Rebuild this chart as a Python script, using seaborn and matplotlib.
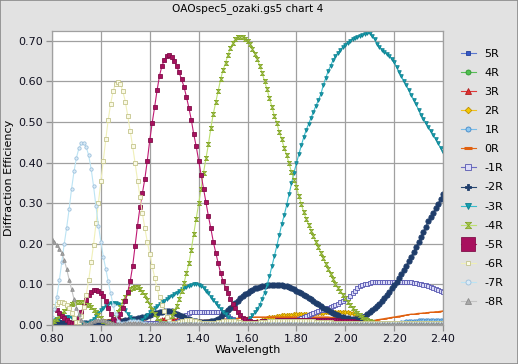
import matplotlib.pyplot as plt
import numpy as np
import pandas as pd
import seaborn as sns
from matplotlib.patches import Rectangle

# wavelength grid (0.01 steps, 0.80 .. 2.40)
wavelength = np.linspace(0.80, 2.40, 161)

p5 = [.010, .009, .008, .007, .006, .005, .004, .004, .003, .003,
      .003, .003, .002, .002, .002, .002, .002, .002, .002, .002,
      .002, .002, .002, .002, .002, .002, .002, .002, .002, .002,
      .002, .002, .002, .002, .002, .002, .002, .002, .002, .002,
      .002, .002, .002, .002, .002, .002, .002, .002, .002, .002,
      .002, .002, .002, .002, .002, .002, .002, .002, .002, .002,
      .002, .002, .002, .002, .002, .002, .002, .002, .002, .002,
      .002, .002, .002, .002, .002, .002, .002, .002, .002, .002,
      .002, .002, .002, .002, .002, .002, .002, .002, .002, .002,
      .002, .002, .002, .002, .002, .002, .002, .002, .002, .002,
      .002, .002, .002, .002, .002, .002, .002, .002, .002, .002,
      .002, .002, .002, .002, .002, .002, .002, .002, .002, .002,
      .002, .002, .002, .002, .002, .002, .002, .002, .002, .002,
      .002, .002, .002, .002, .002, .002, .002, .002, .002, .002,
      .002, .002, .002, .002, .002, .002, .002, .002, .002, .002,
      .002, .002, .002, .002, .002, .002, .002, .002, .002, .002,
      .002]
p4 = [.006, .005, .005, .004, .004, .003, .003, .003, .002, .002,
      .002, .002, .002, .002, .002, .002, .002, .002, .002, .002,
      .002, .002, .002, .002, .002, .002, .002, .002, .002, .002,
      .002, .002, .002, .002, .002, .002, .002, .002, .002, .002,
      .002, .002, .002, .002, .002, .002, .002, .002, .002, .002,
      .002, .002, .002, .002, .002, .002, .002, .002, .002, .002,
      .002, .002, .002, .002, .002, .002, .002, .002, .002, .002,
      .002, .002, .002, .002, .002, .002, .002, .002, .002, .002,
      .002, .002, .002, .002, .002, .002, .002, .002, .002, .002,
      .002, .002, .002, .002, .002, .002, .002, .002, .002, .002,
      .002, .002, .002, .002, .002, .002, .002, .002, .002, .002,
      .002, .002, .002, .002, .002, .002, .002, .002, .002, .002,
      .002, .002, .002, .002, .002, .002, .002, .002, .002, .002,
      .002, .002, .002, .002, .002, .002, .002, .002, .002, .002,
      .002, .002, .002, .002, .002, .002, .002, .002, .002, .002,
      .002, .002, .002, .002, .002, .002, .002, .002, .002, .002,
      .002]
p3 = [.008, .008, .007, .007, .006, .006, .005, .005, .004, .004,
      .004, .003, .003, .003, .003, .003, .003, .003, .003, .003,
      .003, .003, .003, .003, .003, .003, .003, .003, .003, .003,
      .003, .003, .003, .003, .003, .003, .003, .003, .003, .003,
      .004, .006, .008, .010, .012, .014, .015, .016, .016, .016,
      .015, .014, .012, .010, .008, .006, .004, .003, .003, .003,
      .002, .002, .002, .002, .002, .002, .002, .002, .002, .002,
      .002, .002, .002, .002, .002, .002, .002, .002, .002, .002,
      .002, .002, .002, .002, .002, .002, .002, .002, .002, .002,
      .002, .002, .002, .002, .002, .002, .002, .002, .002, .002,
      .002, .002, .002, .002, .002, .002, .002, .002, .002, .002,
      .002, .002, .002, .002, .002, .002, .002, .002, .002, .002,
      .002, .002, .002, .002, .002, .002, .002, .002, .002, .002,
      .002, .002, .002, .002, .002, .002, .002, .002, .002, .002,
      .002, .002, .002, .002, .002, .002, .002, .002, .002, .002,
      .002, .002, .002, .002, .002, .002, .002, .002, .002, .002,
      .002]
p2 = [.002, .002, .002, .002, .002, .002, .002, .002, .002, .002,
      .002, .002, .002, .002, .002, .002, .002, .002, .002, .002,
      .002, .002, .002, .002, .002, .002, .002, .002, .002, .002,
      .002, .002, .002, .002, .002, .002, .002, .002, .002, .002,
      .002, .002, .002, .002, .002, .002, .002, .002, .002, .002,
      .002, .002, .002, .002, .002, .002, .002, .002, .002, .002,
      .002, .002, .002, .002, .002, .002, .002, .002, .002, .002,
      .002, .002, .002, .002, .002, .002, .002, .002, .002, .002,
      .003, .004, .005, .007, .009, .011, .013, .015, .017, .019,
      .020, .021, .022, .023, .024, .024, .025, .025, .025, .026,
      .026, .026, .026, .027, .027, .027, .028, .028, .029, .029,
      .030, .030, .031, .031, .032, .032, .032, .032, .032, .032,
      .031, .031, .030, .029, .027, .024, .020, .015, .010, .006,
      .004, .003, .002, .002, .002, .002, .002, .002, .002, .002,
      .002, .002, .002, .002, .002, .002, .002, .002, .002, .002,
      .002, .002, .002, .002, .002, .002, .002, .002, .002, .002,
      .002]
p1 = [.004, .003, .003, .002, .002, .002, .002, .002, .002, .002,
      .002, .002, .002, .002, .002, .002, .002, .002, .002, .002,
      .002, .002, .002, .002, .002, .002, .002, .002, .002, .002,
      .002, .002, .002, .002, .002, .002, .002, .002, .002, .002,
      .002, .002, .002, .002, .002, .002, .002, .002, .002, .002,
      .002, .002, .002, .002, .002, .002, .002, .002, .002, .002,
      .002, .002, .002, .002, .002, .002, .002, .002, .002, .002,
      .002, .002, .002, .002, .002, .002, .002, .002, .002, .002,
      .002, .002, .002, .002, .002, .002, .002, .002, .002, .002,
      .002, .002, .002, .002, .002, .002, .002, .002, .002, .002,
      .002, .002, .002, .002, .002, .002, .002, .002, .002, .002,
      .002, .002, .002, .002, .002, .002, .002, .002, .002, .002,
      .002, .002, .002, .002, .002, .002, .002, .002, .002, .002,
      .002, .002, .002, .002, .002, .002, .002, .002, .002, .002,
      .004, .005, .006, .007, .008, .009, .010, .010, .011, .011,
      .012, .012, .012, .012, .012, .012, .012, .012, .012, .012,
      .012]
z0 = [.004, .004, .004, .004, .004, .004, .004, .004, .004, .004,
      .004, .004, .004, .004, .004, .005, .006, .007, .008, .009,
      .010, .011, .012, .013, .014, .015, .015, .015, .015, .015,
      .015, .015, .015, .015, .014, .013, .012, .011, .010, .009,
      .008, .008, .008, .008, .008, .008, .008, .008, .009, .009,
      .009, .009, .010, .010, .010, .010, .011, .011, .011, .011,
      .012, .012, .012, .012, .013, .013, .013, .014, .014, .014,
      .015, .015, .015, .016, .016, .016, .017, .017, .018, .018,
      .019, .019, .019, .020, .020, .020, .020, .020, .020, .020,
      .020, .020, .020, .020, .020, .020, .020, .020, .020, .020,
      .020, .020, .020, .020, .020, .020, .020, .020, .020, .020,
      .020, .020, .020, .020, .019, .019, .019, .018, .018, .017,
      .016, .015, .013, .012, .010, .009, .008, .008, .008, .009,
      .010, .011, .012, .013, .014, .015, .016, .017, .018, .019,
      .020, .021, .022, .023, .024, .025, .026, .027, .027, .028,
      .029, .029, .030, .030, .031, .032, .032, .033, .033, .034,
      .035]
m1 = [.003, .003, .003, .003, .003, .003, .003, .003, .003, .003,
      .003, .003, .003, .003, .003, .003, .003, .003, .003, .003,
      .003, .003, .003, .003, .003, .003, .003, .003, .003, .004,
      .004, .004, .004, .004, .004, .004, .004, .004, .004, .004,
      .004, .004, .004, .004, .004, .004, .004, .004, .004, .005,
      .006, .008, .011, .015, .020, .025, .029, .031, .032, .033,
      .033, .033, .033, .033, .033, .033, .033, .033, .032, .031,
      .029, .026, .022, .018, .014, .010, .007, .005, .004, .003,
      .003, .003, .003, .003, .003, .003, .003, .003, .003, .003,
      .003, .003, .003, .004, .004, .005, .006, .007, .008, .010,
      .012, .015, .018, .021, .023, .025, .028, .030, .032, .034,
      .036, .038, .040, .043, .045, .047, .050, .053, .057, .060,
      .063, .067, .071, .078, .085, .090, .095, .098, .101, .102,
      .104, .105, .105, .106, .106, .107, .107, .107, .107, .107,
      .107, .107, .107, .107, .106, .106, .105, .105, .104, .103,
      .102, .101, .099, .098, .096, .093, .091, .089, .086, .084,
      .081]
m2 = [.008, .008, .007, .007, .006, .006, .006, .005, .005, .005,
      .005, .005, .005, .005, .005, .005, .006, .006, .006, .006,
      .006, .006, .006, .007, .007, .007, .008, .008, .010, .011,
      .012, .013, .014, .015, .016, .017, .018, .020, .021, .023,
      .025, .027, .029, .030, .032, .033, .034, .035, .035, .034,
      .030, .028, .025, .022, .019, .016, .014, .012, .010, .009,
      .008, .007, .007, .007, .008, .009, .010, .013, .016, .021,
      .026, .031, .037, .043, .048, .054, .060, .066, .071, .076,
      .080, .084, .087, .090, .092, .094, .096, .097, .098, .099,
      .099, .099, .099, .098, .098, .097, .095, .093, .091, .088,
      .085, .082, .078, .075, .071, .067, .063, .059, .055, .051,
      .047, .043, .039, .036, .032, .029, .026, .024, .021, .019,
      .018, .017, .016, .016, .016, .016, .018, .020, .023, .027,
      .031, .036, .041, .047, .053, .060, .067, .074, .082, .090,
      .098, .107, .116, .126, .136, .146, .157, .168, .180, .192,
      .204, .216, .229, .242, .255, .265, .275, .287, .298, .310,
      .322]
m3 = [.010, .013, .016, .018, .020, .021, .021, .020, .018, .015,
      .012, .009, .006, .004, .003, .005, .009, .015, .022, .029,
      .036, .042, .047, .051, .054, .055, .055, .053, .049, .043,
      .036, .028, .020, .012, .007, .005, .008, .013, .019, .025,
      .031, .036, .041, .046, .051, .056, .060, .064, .068, .072,
      .076, .080, .084, .088, .091, .094, .097, .099, .100, .101,
      .099, .096, .091, .085, .078, .070, .062, .054, .046, .039,
      .032, .026, .020, .016, .012, .009, .007, .005, .005, .008,
      .013, .017, .024, .031, .040, .050, .065, .080, .098, .120,
      .145, .170, .195, .222, .248, .270, .295, .322, .350, .375,
      .398, .420, .442, .462, .480, .495, .510, .525, .540, .553,
      .568, .590, .608, .625, .638, .652, .662, .670, .677, .684,
      .690, .695, .700, .705, .707, .709, .712, .714, .717, .719,
      .718, .712, .703, .692, .685, .678, .672, .667, .662, .656,
      .647, .635, .623, .612, .600, .590, .578, .566, .555, .543,
      .530, .518, .508, .497, .487, .477, .468, .458, .447, .436,
      .425]
m4 = [.005, .010, .016, .022, .028, .035, .041, .046, .051, .054,
      .056, .057, .057, .056, .053, .049, .044, .038, .031, .024,
      .017, .011, .006, .003, .004, .010, .020, .032, .045, .058,
      .070, .080, .088, .092, .094, .093, .089, .082, .073, .062,
      .050, .038, .027, .017, .009, .004, .003, .005, .012, .022,
      .035, .048, .065, .083, .103, .127, .152, .185, .225, .262,
      .300, .335, .375, .410, .445, .485, .520, .548, .575, .605,
      .628, .645, .665, .682, .694, .703, .708, .710, .709, .705,
      .700, .691, .680, .668, .655, .638, .620, .600, .580, .558,
      .537, .515, .497, .475, .457, .437, .418, .398, .377, .358,
      .340, .318, .298, .278, .262, .247, .232, .218, .204, .191,
      .178, .164, .151, .138, .125, .113, .102, .092, .083, .074,
      .066, .057, .049, .042, .035, .029, .024, .019, .015, .012,
      .009, .007, .005, .004, .003, .002, .002, .002, .002, .002,
      .002, .003, .003, .003, .003, .004, .004, .004, .004, .004,
      .004, .004, .004, .004, .004, .004, .003, .003, .003, .003,
      .003]
m5 = [.048, .044, .037, .030, .023, .017, .012, .007, .004, .004,
      .008, .018, .032, .048, .062, .074, .082, .086, .087, .085,
      .080, .072, .058, .043, .028, .016, .010, .014, .026, .042,
      .060, .082, .108, .145, .195, .245, .290, .325, .360, .405,
      .455, .498, .537, .578, .614, .638, .653, .662, .665, .660,
      .650, .638, .622, .605, .587, .562, .535, .505, .470, .440,
      .405, .370, .336, .302, .268, .238, .205, .178, .152, .128,
      .108, .092, .078, .064, .052, .041, .032, .024, .018, .014,
      .011, .009, .008, .008, .008, .008, .009, .009, .010, .010,
      .011, .011, .012, .012, .012, .012, .012, .013, .013, .013,
      .013, .013, .013, .013, .013, .013, .013, .013, .013, .013,
      .013, .013, .013, .012, .012, .012, .012, .012, .011, .011,
      .011, .010, .010, .009, .008, .007, .006, .005, .004, .003,
      .003, .002, .002, .002, .002, .002, .002, .002, .002, .002,
      .002, .002, .002, .002, .002, .002, .002, .002, .002, .002,
      .002, .002, .002, .002, .002, .002, .002, .002, .002, .002,
      .002]
m6 = [.040, .047, .053, .056, .057, .055, .050, .042, .030, .017,
      .007, .008, .022, .045, .075, .110, .155, .198, .250, .300,
      .355, .405, .457, .505, .545, .575, .594, .599, .594, .575,
      .550, .515, .478, .440, .398, .355, .315, .275, .238, .205,
      .175, .145, .117, .090, .068, .050, .034, .020, .011, .006,
      .004, .005, .007, .009, .011, .012, .012, .012, .011, .009,
      .008, .006, .005, .004, .004, .004, .005, .006, .007, .008,
      .009, .010, .010, .010, .010, .009, .008, .007, .006, .005,
      .005, .005, .005, .006, .006, .007, .007, .008, .008, .009,
      .009, .009, .010, .010, .010, .010, .010, .010, .010, .010,
      .010, .010, .010, .010, .009, .009, .009, .009, .008, .008,
      .008, .008, .007, .007, .007, .006, .006, .006, .006, .005,
      .005, .005, .005, .005, .005, .005, .005, .005, .005, .005,
      .004, .004, .004, .004, .004, .004, .004, .004, .004, .004,
      .004, .004, .004, .004, .004, .004, .004, .004, .004, .004,
      .004, .004, .004, .004, .004, .004, .004, .004, .004, .004,
      .004]
m7 = [.020, .040, .070, .110, .155, .200, .240, .285, .335, .378,
      .412, .435, .447, .448, .438, .418, .385, .342, .292, .245,
      .205, .168, .138, .108, .078, .050, .026, .011, .005, .004,
      .006, .008, .009, .010, .010, .009, .008, .006, .004, .003,
      .002, .002, .002, .003, .003, .004, .004, .004, .004, .003,
      .003, .002, .002, .002, .002, .002, .002, .002, .002, .002,
      .002, .002, .002, .002, .002, .002, .002, .002, .002, .002,
      .002, .002, .002, .002, .002, .002, .002, .002, .002, .002,
      .002, .002, .002, .002, .002, .002, .002, .002, .002, .002,
      .002, .002, .002, .002, .002, .002, .002, .002, .002, .002,
      .002, .002, .002, .002, .002, .002, .002, .002, .002, .002,
      .002, .002, .002, .002, .002, .002, .002, .002, .002, .002,
      .002, .002, .002, .002, .002, .002, .002, .002, .002, .002,
      .002, .002, .002, .002, .002, .002, .002, .002, .002, .002,
      .002, .002, .002, .002, .002, .002, .002, .002, .002, .002,
      .002, .002, .002, .002, .002, .002, .002, .002, .002, .002,
      .002]
m8 = [.212, .205, .196, .188, .178, .160, .138, .112, .088, .064,
      .043, .026, .013, .006, .003, .004, .007, .010, .012, .013,
      .013, .012, .010, .008, .006, .004, .003, .002, .002, .003,
      .004, .005, .006, .006, .006, .005, .004, .003, .002, .002,
      .002, .002, .003, .003, .004, .004, .004, .004, .003, .003,
      .002, .002, .002, .002, .002, .003, .003, .003, .003, .003,
      .003, .003, .002, .002, .002, .002, .002, .002, .002, .002,
      .002, .002, .002, .002, .002, .002, .002, .002, .002, .002,
      .002, .002, .002, .002, .002, .002, .002, .002, .002, .002,
      .002, .002, .002, .002, .002, .002, .002, .002, .002, .002,
      .002, .002, .002, .002, .002, .002, .002, .002, .002, .002,
      .002, .002, .002, .002, .002, .002, .002, .002, .002, .002,
      .002, .002, .002, .002, .002, .002, .002, .002, .002, .002,
      .002, .002, .002, .002, .002, .002, .002, .002, .002, .002,
      .002, .002, .002, .002, .002, .002, .002, .002, .002, .002,
      .002, .002, .002, .002, .002, .002, .002, .002, .002, .002,
      .002]

orders = ['5R', '4R', '3R', '2R', '1R', '0R', '-1R', '-2R',
          '-3R', '-4R', '-5R', '-6R', '-7R', '-8R']
series = [p5, p4, p3, p2, p1, z0, m1, m2, m3, m4, m5, m6, m7, m8]

df = pd.concat([pd.DataFrame({'Wavelength': wavelength, 'eff': s, 'order': o})
                for o, s in zip(orders, series)], ignore_index=True)

hourglass = [(-1, 1), (1, 1), (-1, -1), (1, -1), (-1, 1)]
# line colour, marker, marker size, face, edge
styles = {
    '5R':  ('#5a78d0', 's', 2.4, '#3458c8', '#24409a'),
    '4R':  ('#58bc58', 'o', 2.4, '#50c050', '#2e962e'),
    '3R':  ('#e03a3a', '^', 2.6, '#e03030', '#b02020'),
    '2R':  ('#f0c020', 'D', 2.2, '#f4c800', '#c09000'),
    '1R':  ('#78bce8', 'o', 2.4, '#90c8f0', '#4088c8'),
    '0R':  ('#e06818', '_', 4.0, '#e06010', '#e06010'),
    '-1R': ('#6c6cc4', 's', 2.6, '#dcdcf8', '#5656b0'),
    '-2R': ('#27466f', 'o', 3.8, '#1f3d6b', '#1f3d6b'),
    '-3R': ('#38bccc', 'v', 2.6, '#14a0b0', '#0e8090'),
    '-4R': ('#bce070', hourglass, 3.0, '#a8c850', '#86a82c'),
    '-5R': ('#c01a74', 's', 2.4, '#a8105e', '#80104a'),
    '-6R': ('#f0f0b8', 's', 2.4, '#fafae6', '#c4c48c'),
    '-7R': ('#bce4f4', 'o', 2.4, '#dcecf8', '#9cc0dc'),
    '-8R': ('#c4c4c4', '^', 2.6, '#a8a8a8', '#8c8c8c'),
}

plt.rcParams['font.family'] = ['DejaVu Sans']
fig = plt.figure(figsize=(5.18, 3.64), dpi=100, facecolor='#e2e2e2')
ax = fig.add_axes([0.1004, 0.107, 0.7548, 0.808])
ax.set_facecolor('white')

for o in orders:
    lc, mk, ms, fc, ec = styles[o]
    sub = df[df['order'] == o]
    sns.lineplot(data=sub, x='Wavelength', y='eff', ax=ax, color=lc, lw=0.8,
                 marker=mk, markersize=ms, markerfacecolor=fc,
                 markeredgecolor=ec, markeredgewidth=0.6, label=o,
                 sort=False, estimator=None, legend=False)

ax.set_xlim(0.80, 2.40)
ax.set_ylim(0.0, 0.724)
ax.set_xticks([0.8, 1.0, 1.2, 1.4, 1.6, 1.8, 2.0, 2.2, 2.4])
ax.set_yticks([0.0, 0.1, 0.2, 0.3, 0.4, 0.5, 0.6, 0.7])
ax.xaxis.set_major_formatter(lambda v, p: f'{v:.2f}')
ax.yaxis.set_major_formatter(lambda v, p: f'{v:.2f}')
ax.grid(True, color='#a0a0a0', lw=0.9)
ax.set_axisbelow(True)
for sp in ax.spines.values():
    sp.set_color('#a0a0a0')
    sp.set_linewidth(0.9)
ax.tick_params(length=4, width=0.9, color='#909090', labelsize=8,
               labelcolor='#101020', pad=2.5)
ax.set_xlabel('Wavelength', fontsize=8, labelpad=1)
ax.set_ylabel('Diffraction Efficiency', fontsize=8, labelpad=3)
ax.set_title('OAOspec5_ozaki.gs5 chart 4', fontsize=7.6, pad=14)

handles, labels = ax.get_legend_handles_labels()
leg = ax.legend(handles, labels, loc='upper left', bbox_to_anchor=(1.035, 0.955),
                frameon=False, fontsize=8, handlelength=1.3, handletextpad=0.8,
                labelspacing=0.82, borderaxespad=0)
for h in leg.legend_handles:
    h.set_markersize(h.get_markersize() * 1.5)
leg.legend_handles[5].set_markeredgewidth(2.2)
leg.legend_handles[7].set_marker('P')
leg.legend_handles[7].set_markersize(5)
leg.legend_handles[10].set_markersize(10)

fig.patches.append(Rectangle((0, 0), 1, 1, transform=fig.transFigure,
                             fill=False, edgecolor='#8a8a8a', lw=1.2))

fig.savefig('out.png', dpi=100, facecolor=fig.get_facecolor())
